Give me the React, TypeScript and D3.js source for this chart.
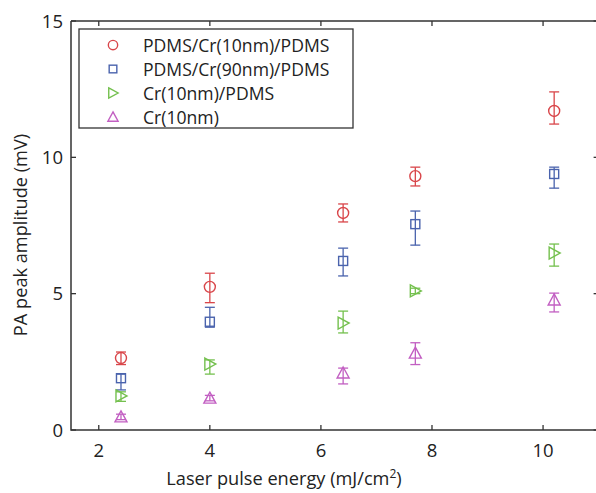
import React from "react";
import * as d3 from "d3";

const energies = [2.4, 4.0, 6.4, 7.7, 10.2];
const seriesNames = ["PDMS/Cr(10nm)/PDMS", "PDMS/Cr(90nm)/PDMS", "Cr(10nm)/PDMS", "Cr(10nm)"];
const seriesColors = ["#d9464a", "#4a63ad", "#74c04e", "#c25fc2"];
const seriesShapes = ["circle", "square", "triangleRight", "triangleUp"];

const redValues = [2.64, 5.25, 7.96, 9.31, 11.7];
const redErrLow = [0.24, 0.58, 0.33, 0.36, 0.48];
const redErrHigh = [0.22, 0.5, 0.33, 0.33, 0.7];

const blueValues = [1.9, 3.97, 6.2, 7.55, 9.39];
const blueErrLow = [0.43, 0.2, 0.55, 0.77, 0.52];
const blueErrHigh = [0.15, 0.53, 0.47, 0.48, 0.25];

const greenValues = [1.25, 2.42, 3.92, 5.1, 6.49];
const greenErrLow = [0.2, 0.37, 0.36, 0.1, 0.48];
const greenErrHigh = [0.15, 0.15, 0.44, 0.1, 0.33];

const magentaValues = [0.48, 1.17, 2.09, 2.82, 4.77];
const magentaErrLow = [0.1, 0.1, 0.4, 0.42, 0.44];
const magentaErrHigh = [0.1, 0.1, 0.18, 0.38, 0.25];

const xTicks = [2, 4, 6, 8, 10];
const yTicks = [0, 5, 10, 15];

const W = 596;
const H = 493;
const FONT = "'Open Sans', 'Noto Sans', sans-serif";

function Marker({ shape, x, y, color, s = 1 }: { shape: string; x: number; y: number; color: string; s?: number }) {
  const sw = 1.4;
  if (shape === "circle") return <circle cx={x} cy={y} r={5.5 * s} fill="none" stroke={color} strokeWidth={sw} />;
  if (shape === "square") return <rect x={x - 4.5 * s} y={y - 4.5 * s} width={9 * s} height={9 * s} fill="none" stroke={color} strokeWidth={sw} />;
  if (shape === "triangleRight")
    return <path d={`M${x - 5 * s},${y - 6 * s}L${x + 6 * s},${y}L${x - 5 * s},${y + 6 * s}Z`} fill="none" stroke={color} strokeWidth={sw} />;
  return <path d={`M${x},${y - 6 * s}L${x + 6 * s},${y + 5 * s}L${x - 6 * s},${y + 5 * s}Z`} fill="none" stroke={color} strokeWidth={sw} />;
}

export default function App() {
  const left = 71, right = 598.6, top = 21, bottom = 430;
  const x = d3.scaleLinear().domain([1.5, 11]).range([left, right]);
  const y = d3.scaleLinear().domain([0, 15]).range([bottom, top]);

  const series = [
    { v: redValues, lo: redErrLow, hi: redErrHigh },
    { v: blueValues, lo: blueErrLow, hi: blueErrHigh },
    { v: greenValues, lo: greenErrLow, hi: greenErrHigh },
    { v: magentaValues, lo: magentaErrLow, hi: magentaErrHigh },
  ];
  const axisColor = "#333";
  const tickLen = 5;

  return (
    <svg width={W} height={H} style={{ position: "absolute", left: 0, top: 0, background: "#fff" }}>
      <rect width={W} height={H} fill="#fff" />
      <path d={`M${left},${top}H${right}M${left},${top}V${bottom}H${right}V${top}`} fill="none" stroke={axisColor} strokeWidth={1.5} />
      {xTicks.map((t) => (
        <g key={"xt" + t}>
          <line x1={x(t)} x2={x(t)} y1={bottom} y2={bottom - tickLen} stroke={axisColor} strokeWidth={1.3} />
          <line x1={x(t)} x2={x(t)} y1={top} y2={top + tickLen} stroke={axisColor} strokeWidth={1.3} />
          <text x={x(t)} y={bottom + 27} textAnchor="middle" fontFamily={FONT} fontSize={18.5} fill="#222">{t}</text>
        </g>
      ))}
      {yTicks.map((t) => (
        <g key={"yt" + t}>
          <line x1={left} x2={left + tickLen} y1={y(t)} y2={y(t)} stroke={axisColor} strokeWidth={1.3} />
          <line x1={right} x2={right - tickLen} y1={y(t)} y2={y(t)} stroke={axisColor} strokeWidth={1.3} />
          <text x={63} y={y(t) + 6.5} textAnchor="end" fontFamily={FONT} fontSize={18.5} fill="#222">{t}</text>
        </g>
      ))}
      <text x={284} y={485} textAnchor="middle" fontFamily={FONT} fontSize={18.2} fill="#222">
        Laser pulse energy (mJ/cm<tspan dy={-7} fontSize={12}>2</tspan><tspan dy={7}>)</tspan>
      </text>
      <text transform={`translate(27,235) rotate(-90)`} textAnchor="middle" fontFamily={FONT} fontSize={18.2} fill="#222">
        PA peak amplitude (mV)
      </text>
      {series.map((s, si) => (
        <g key={"s" + si}>
          {energies.map((e, i) => {
            const cx = x(e);
            const yl = y(s.v[i] - s.lo[i]);
            const yh = y(s.v[i] + s.hi[i]);
            const c = seriesColors[si];
            return (
              <g key={i}>
                <line x1={cx} x2={cx} y1={yl} y2={yh} stroke={c} strokeWidth={1.3} />
                <line x1={cx - 5} x2={cx + 5} y1={yl} y2={yl} stroke={c} strokeWidth={1.3} />
                <line x1={cx - 5} x2={cx + 5} y1={yh} y2={yh} stroke={c} strokeWidth={1.3} />
                <Marker shape={seriesShapes[si]} x={cx} y={y(s.v[i])} color={c} />
              </g>
            );
          })}
        </g>
      ))}
      <rect x={79} y={29} width={274} height={99} fill="#fff" stroke={axisColor} strokeWidth={1.3} />
      {seriesNames.map((n, i) => (
        <g key={"l" + i}>
          <Marker shape={seriesShapes[i]} x={113} y={45 + i * 24} color={seriesColors[i]} s={0.85} />
          <text x={143} y={45 + i * 24 + 6.5} fontFamily={FONT} fontSize={17.6} fill="#222">{n}</text>
        </g>
      ))}
    </svg>
  );
}
